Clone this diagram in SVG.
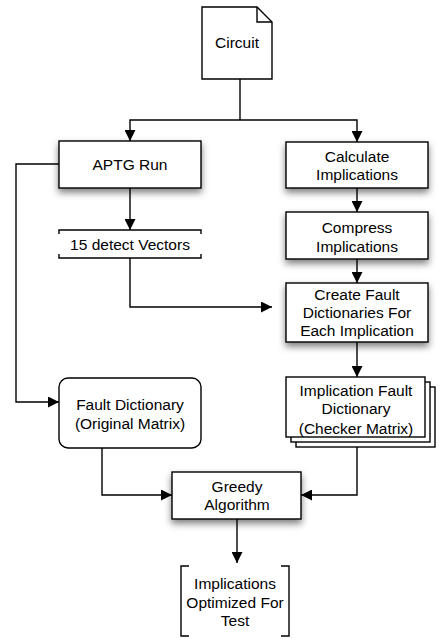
<svg xmlns="http://www.w3.org/2000/svg" width="440" height="639" viewBox="0 0 440 639">
<style>
.box{fill:#fff;stroke:#000;stroke-width:1.4}
.sh{filter:url(#shadow)}
.ln{fill:none;stroke:#000;stroke-width:1.4}
.arr{marker-end:url(#ah)}
text{font-family:"Liberation Sans",Arial,sans-serif;font-size:15.5px;text-anchor:middle;fill:#000}
</style>
<defs>
<filter id="shadow" x="-20%" y="-20%" width="140%" height="170%">
<feDropShadow dx="0" dy="4" stdDeviation="3.5" flood-color="#000" flood-opacity="0.5"/>
</filter>
<marker id="ah" viewBox="0 0 10 10" refX="10" refY="5" markerUnits="userSpaceOnUse" markerWidth="11" markerHeight="11" orient="auto">
<path d="M0,0 L10,5 L0,10 Z" fill="#000"/>
</marker>
</defs>
<g id="connectors">
<path class="ln" d="M240,79 V120"/>
<path class="ln arr" d="M240,120 H130 V141"/>
<path class="ln arr" d="M240,120 H357 V142"/>
<path class="ln arr" d="M59,164 H16 V402 H59"/>
<path class="ln arr" d="M130,188 V230"/>
<path class="ln arr" d="M130,258 V307 H272"/>
<path class="ln arr" d="M357,188 V212"/>
<path class="ln arr" d="M357,259 V283"/>
<path class="ln arr" d="M357,342 V377"/>
<path class="ln arr" d="M102,448 V495 H172"/>
<path class="ln arr" d="M357,447 V495 H301"/>
<path class="ln arr" d="M237,519 V563"/>
</g>
<g id="circuit">
<path class="box" d="M202,7 H257 L272,22 V79 H202 Z"/>
<path class="ln" d="M257,7 V22 H272"/>
<text x="237" y="48">Circuit</text>
</g>
<g id="aptg">
<rect class="box sh" x="59" y="141" width="142" height="47"/>
<text x="130" y="170">APTG Run</text>
</g>
<g id="calc">
<rect class="box sh" x="286" y="142" width="142" height="46"/>
<text x="357" y="162">Calculate</text>
<text x="357" y="180">Implications</text>
</g>
<g id="compress">
<rect class="box sh" x="286" y="212" width="142" height="47"/>
<text x="357" y="233">Compress</text>
<text x="357" y="252">Implications</text>
</g>
<g id="create">
<rect class="box sh" x="286" y="283" width="142" height="59"/>
<text x="357" y="300">Create Fault</text>
<text x="357" y="318">Dictionaries For</text>
<text x="357" y="336">Each Implication</text>
</g>
<g id="vectors">
<rect x="59" y="230" width="142" height="28" fill="#fff"/>
<path class="ln" d="M59,234 V230 H201 V234 M59,254 V258 H201 V254"/>
<text x="130" y="250">15 detect Vectors</text>
</g>
<g id="faultdict">
<rect class="box" x="59" y="378" width="142" height="70" rx="9"/>
<text x="130" y="410">Fault Dictionary</text>
<text x="130" y="429">(Original Matrix)</text>
</g>
<g id="implfault">
<rect class="box" x="296" y="387" width="139" height="60"/>
<rect class="box" x="291" y="382" width="139" height="60"/>
<rect class="box" x="286" y="377" width="139" height="60"/>
<text x="356" y="396">Implication Fault</text>
<text x="356" y="414">Dictionary</text>
<text x="356" y="434">(Checker Matrix)</text>
</g>
<g id="greedy">
<rect class="box sh" x="172" y="472" width="129" height="47"/>
<text x="237" y="492">Greedy</text>
<text x="237" y="510">Algorithm</text>
</g>
<g id="optimized">
<path class="ln" d="M189,566 H181 V636 H189 M281,566 H289 V636 H281"/>
<text x="235" y="589">Implications</text>
<text x="235" y="608">Optimized For</text>
<text x="235" y="626">Test</text>
</g>
</svg>
